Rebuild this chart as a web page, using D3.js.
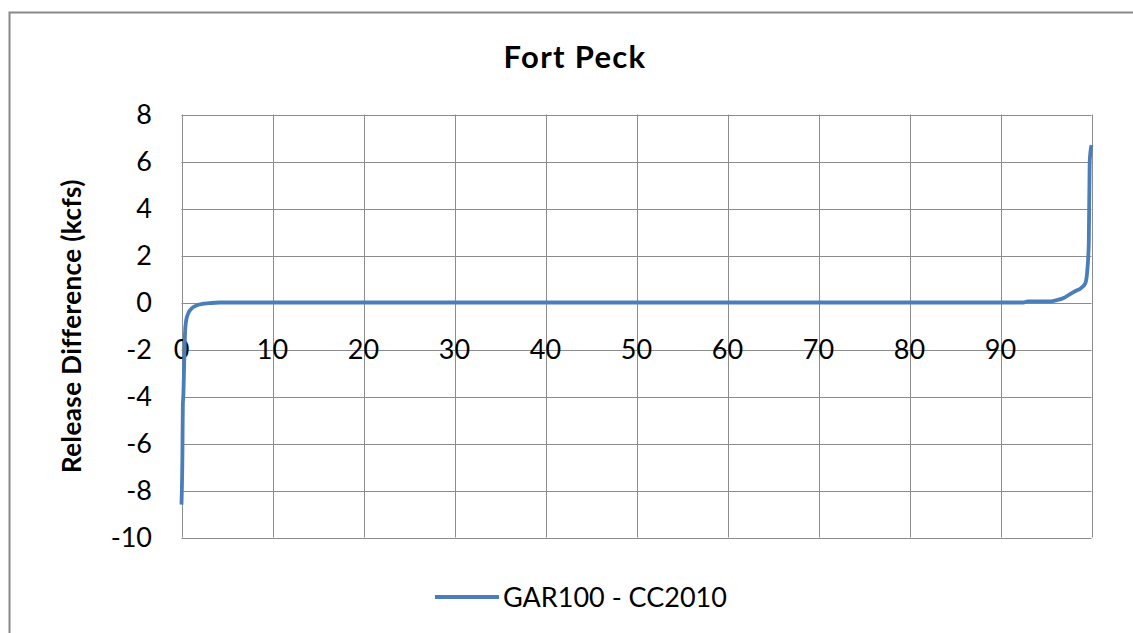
<!DOCTYPE html>
<html><head><meta charset="utf-8">
<script src="https://cdn.jsdelivr.net/npm/d3@7"></script>
<style>body{margin:0;background:#fff}svg{display:block}text{font-family:Lato,"Open Sans",sans-serif;fill:#000}</style>
</head><body><svg id="c" width="1133" height="633"></svg>
<script>
const title = "Fort Peck";
const seriesName = "GAR100 - CC2010";
const yTitle = "Release Difference (kcfs)";
const xTicks = [0,10,20,30,40,50,60,70,80,90];
const yTicks = [8,6,4,2,0,-2,-4,-6,-8,-10];
// percent of time (x) and release difference in kcfs (y)
const pct   = [0, 0.1, 0.15, 0.2, 0.3, 0.4, 0.5, 0.7, 1.0, 1.5, 2.4, 3.0, 4.2, 92.5, 93.0, 95.5, 96.2, 97.0, 97.6, 98.3, 98.8, 99.3, 99.5, 99.7, 99.8, 100];
const value = [-8.6, -6.5, -4.3, -4.0, -2.5, -1.2, -0.8, -0.5, -0.3, -0.15, -0.05, -0.03, 0, 0, 0.05, 0.05, 0.1, 0.2, 0.35, 0.5, 0.6, 0.8, 1.2, 2.5, 6.0, 6.7];

const svg = d3.select("#c");
const L=181.5, R=1091.5, T=114.5, B=537.5;
const x = d3.scaleLinear().domain([0,100]).range([L,R]);
const y = d3.scaleLinear().domain([-10,8]).range([B,T]);

// outer border
svg.append("rect").attr("x",9.5).attr("y",12.5).attr("width",1140).attr("height",640)
  .attr("fill","none").attr("stroke","#898989").attr("stroke-width",2);

// gridlines
svg.append("g").selectAll("line").data(yTicks).join("line")
  .attr("x1",L).attr("x2",R).attr("y1",d=>Math.round(y(d))+0.5).attr("y2",d=>Math.round(y(d))+0.5)
  .attr("stroke","#8c8c8c").attr("stroke-width",1);
svg.append("g").selectAll("line").data(xTicks.concat([100])).join("line")
  .attr("y1",T).attr("y2",B).attr("x1",d=>Math.round(x(d))+0.5).attr("x2",d=>Math.round(x(d))+0.5)
  .attr("stroke","#8c8c8c").attr("stroke-width",1);

// y tick labels
svg.append("g").selectAll("text").data(yTicks).join("text")
  .attr("x",152).attr("y",d=>y(d)).attr("dy","0.36em").attr("text-anchor","end")
  .style("font-size","27px").text(d=>d);

// x tick labels (at axis crossing, below)
svg.append("g").selectAll("text").data(xTicks).join("text")
  .attr("x",d=>x(d)).attr("y",y(-2)).attr("dy","0.36em").attr("text-anchor","middle")
  .style("font-size","27px").text(d=>d);

// line
svg.append("path").datum(pct.map((p,i)=>[p,value[i]]))
  .attr("d",d3.line().x(d=>x(d[0])).y(d=>y(d[1])).curve(d3.curveMonotoneX))
  .attr("fill","none").attr("stroke","#4a7ebb").attr("stroke-width",3.8).attr("stroke-linejoin","round");

// title
svg.append("text").attr("x",575).attr("y",68).attr("text-anchor","middle")
  .style("font-size","31px").style("font-weight","bold").style("letter-spacing","1.3px").text(title);

// y axis title
svg.append("text").attr("transform","translate(81,326) rotate(-90)").attr("text-anchor","middle")
  .style("font-size","26px").style("font-weight","bold").style("letter-spacing","0.4px").text(yTitle);

// legend
svg.append("line").attr("x1",435).attr("x2",499).attr("y1",597).attr("y2",597)
  .attr("stroke","#4a7ebb").attr("stroke-width",3.8);
svg.append("text").attr("x",503).attr("y",597).attr("dy","0.36em")
  .style("font-size","27px").text(seriesName);
</script></body></html>
